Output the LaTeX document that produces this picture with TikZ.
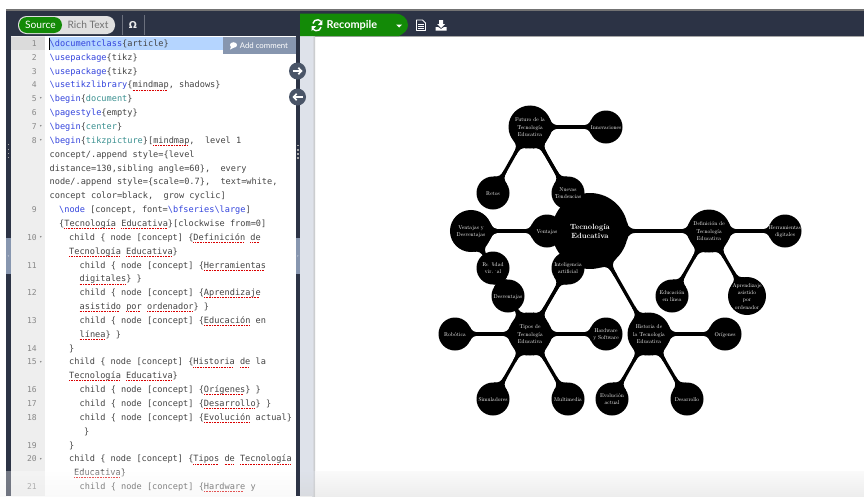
\documentclass[tikz,border=0pt]{standalone}
\usepackage{fontspec}
\setmainfont{Latin Modern Roman}
\newfontfamily\uifont{Lato}
\newfontfamily\codefont{DejaVu Sans Mono}
\newfontfamily\symfont{DejaVu Sans}
\usetikzlibrary{shapes.geometric,calc,arrows.meta}
\definecolor{uidark}{HTML}{2C3345}
\definecolor{uigreen}{HTML}{138A07}
\definecolor{gutter}{HTML}{EEEEEE}
\definecolor{kw}{HTML}{3344DD}
\definecolor{env}{HTML}{3A9090}
\definecolor{codetx}{HTML}{444444}
\definecolor{numtx}{HTML}{888888}
\definecolor{sel}{HTML}{B5D5FF}
\definecolor{tabg}{HTML}{8796AF}
\definecolor{handle}{HTML}{4A5568}
\definecolor{splitlight}{HTML}{DEE2EA}
\newcommand\sq[1]{\setbox0\hbox{#1}\rlap{\raisebox{-2.2pt}{\color{red!85!black}\leaders\hbox to 1.6pt{\rule{.9pt}{.55pt}\hss}\hskip\wd0}}\box0\relax}
\newcommand\kwd[1]{{\color{kw}#1}}
\newcommand\envn[1]{{\color{env}#1}}
\newcommand\ct[1]{\makebox[0pt]{\smash{\raisebox{-3.6pt}{\begin{tabular}[c]{@{}c@{}}#1\end{tabular}}}}}
\pgfdeclarelayer{ui}
\pgfdeclarelayer{conn}
\pgfsetlayers{ui,conn,main}
\tikzset{
  x=1pt,y=-1pt,
  basec/.style={circle,fill=black,text=white,inner sep=0pt,outer sep=0pt},
  cnode/.style={basec,scale=.55,font=\fontsize{10}{13.3}\selectfont,minimum size=60pt},
  bigc/.style={cnode,minimum size=78.2pt},
  rootc/.style={basec,scale=.75,minimum size=101.3pt,font=\bfseries\fontsize{10}{12.4}\selectfont},
  barl/.style={line width=3.3pt,draw=black},
  codel/.style={anchor=base west,inner sep=0pt,font=\codefont\fontsize{8.6}{10}\selectfont,text=codetx},
  numl/.style={anchor=base east,inner sep=0pt,font=\codefont\fontsize{8}{10}\selectfont,text=numtx},
  foldm/.style={inner sep=0pt,font=\symfont\fontsize{4}{4}\selectfont,text=numtx},
  uit/.style={inner sep=0pt,font=\uifont\fontsize{10.2}{11}\selectfont}
}
\newcommand\codeln[3]{\node[codel] (c#1) at (#2,{46.4+13.85*#1}) {\strut #3};}
\newcommand\numln[2]{\node[numl] (n#1) at (37,{46.4+13.85*#1}) {#2};}
\newcommand\fold[1]{\node[foldm] (f#1) at (41,{43.5+13.85*#1}) {▾};}
% flared foot of a connector, on node #1, facing node #2
\newcommand\flare[2]{%
  \pgfpointanchor{#1}{center}\pgfgetlastxy\fxa\fya
  \pgfpointanchor{#2}{center}\pgfgetlastxy\fxb\fyb
  \pgfpointanchor{#1}{east}\pgfgetlastxy\fxc\fyc
  \pgfmathsetmacro\fang{atan2(\fyb-\fya,\fxb-\fxa)}%
  \pgfmathsetmacro\fR{\fxc-\fxa}%
  \pgfmathsetmacro\fw{6.5+0.08*\fR}%
  \pgfmathsetmacro\fx{sqrt(\fR*\fR-\fw*\fw)}%
  \pgfmathsetmacro\fe{\fR+4+0.26*\fR}%
  \pgfmathsetmacro\fa{\fR+0.5}%
  \pgfmathsetmacro\fb{\fR+2.5}%
  \fill[shift={(\fxa,\fya)},rotate=\fang]
    (\fx,\fw) .. controls (\fa,2.8) and (\fb,1.65) .. (\fe,1.65)
    -- (\fe,-1.65) .. controls (\fb,-1.65) and (\fa,-2.8) .. (\fx,-\fw) -- cycle;}
\begin{document}
\begin{tikzpicture}
\useasboundingbox (0,0) rectangle (864,496);
\begin{pgfonlayer}{ui}
\fill[white] (0,0) rectangle (864,496);
\fill[black!55] (6,9) rectangle (864,11);
\fill[uidark] (6,11) rectangle (864,36);
\fill[black!35] (315,36) rectangle (864,36.8);
\fill[uidark] (6,36) rectangle (11,496);
\fill[white] (11,36) rectangle (296,496);
\fill[gutter] (11,36) rectangle (45,496);
\fill[uidark] (295.5,36) rectangle (300,496);
\fill[splitlight] (300,36) rectangle (312,496);
\shade[left color=splitlight,right color=black!24] (312,36) rectangle (315,496);
% toolbar left
\path[fill=black!12!white,rounded corners=8.5pt] (18,16) rectangle (115,34);
\path[fill=uigreen,rounded corners=8pt] (19,17) rectangle (62,33);
\node[uit,text=white] (srcl) at (40.5,25) {Source};
\node[uit,text=black!55] (rich) at (88,25) {Rich Text};
\node[inner sep=0pt,text=black!8,font=\symfont\bfseries\fontsize{9.5}{10}\selectfont] (omega) at (133,24.5) {Ω};
\draw[uidark!70!white,line width=.5pt] (122,15) -- (122,35) (144,15) -- (144,35);
% selected first line
\fill[sel] (49,37) rectangle (223,50);
\fill[black!14!white] (11,37) rectangle (45,50);
\draw[black,line width=.6pt] (49.5,37.5) -- (49.5,49.5);
% comment tag
\fill[tabg] (223,36.5) rectangle (296,54);
\fill[white] (233.5,45) ellipse (3.6 and 2.8);
\fill[white] (231,46.5) -- (230,49.5) -- (234,47.5) -- cycle;
\node[inner sep=0pt,anchor=west,text=white,font=\uifont\fontsize{7.8}{9}\selectfont] (addc) at (239.7,45.5) {Add comment};
% code
\numln{0}{1}\numln{1}{2}\numln{2}{3}\numln{3}{4}\numln{4}{5}\numln{5}{6}\numln{6}{7}\numln{7}{8}
\numln{12}{9}\numln{14}{10}\numln{16}{11}\numln{18}{12}\numln{20}{13}\numln{22}{14}\numln{23}{15}
\numln{25}{16}\numln{26}{17}\numln{27}{18}\numln{29}{19}\numln{30}{20}\numln{32}{21}
\fold{4}\fold{6}\fold{7}\fold{14}\fold{23}\fold{30}
\codeln{0}{49.5}{\kwd{\textbackslash documentclass}\{article\}}
\codeln{1}{49.5}{\kwd{\textbackslash usepackage}\{tikz\}}
\codeln{2}{49.5}{\kwd{\textbackslash usepackage}\{tikz\}}
\codeln{3}{49.5}{\kwd{\textbackslash usetikzlibrary}\{\sq{mindmap}, shadows\}}
\codeln{4}{49.5}{\kwd{\textbackslash begin}\{\envn{document}\}}
\codeln{5}{49.5}{\kwd{\textbackslash pagestyle}\{empty\}}
\codeln{6}{49.5}{\kwd{\textbackslash begin}\{\envn{center}\}}
\codeln{7}{49.5}{\kwd{\textbackslash begin}\{\envn{tikzpicture}\}[\sq{mindmap},\ \ level 1}
\codeln{8}{49.5}{concept/.append style=\{level}
\codeln{9}{49.5}{distance=130,sibling angle=60\},\ \ every}
\codeln{10}{49.5}{node/.append style=\{scale=0.7\},\ \ text=white,}
\codeln{11}{49.5}{concept color=black,\ \ grow cyclic]}
\codeln{12}{59}{\kwd{\textbackslash node} [concept, font=\kwd{\textbackslash bfseries\textbackslash large}]}
\codeln{13}{59}{\{\sq{Tecnología} \sq{Educativa}\}[clockwise from=0]}
\codeln{14}{69}{child \{ node [concept] \{\sq{Definición} \sq{de}}
\codeln{15}{69}{\sq{Tecnología} \sq{Educativa}\}}
\codeln{16}{79.5}{child \{ node [concept] \{\sq{Herramientas}}
\codeln{17}{79.5}{\sq{digitales}\} \}}
\codeln{18}{79.5}{child \{ node [concept] \{\sq{Aprendizaje}}
\codeln{19}{79.5}{\sq{asistido} \sq{por} \sq{ordenador}\} \}}
\codeln{20}{79.5}{child \{ node [concept] \{\sq{Educación} en}
\codeln{21}{79.5}{\sq{línea}\} \}}
\codeln{22}{69}{\}}
\codeln{23}{69}{child \{ node [concept] \{\sq{Historia} \sq{de} la}
\codeln{24}{69}{\sq{Tecnología} \sq{Educativa}\}}
\codeln{25}{79.5}{child \{ node [concept] \{\sq{Orígenes}\} \}}
\codeln{26}{79.5}{child \{ node [concept] \{\sq{Desarrollo}\} \}}
\codeln{27}{79.5}{child \{ node [concept] \{\sq{Evolución} actual\}}
\codeln{28}{84}{\}}
\codeln{29}{69}{\}}
\codeln{30}{69}{child \{ node [concept] \{\sq{Tipos} \sq{de} \sq{Tecnología}}
\codeln{31}{74}{\sq{Educativa}\}}
\codeln{32}{79.5}{child \{ node [concept] \{\sq{Hardware} y}
% splitter details
\fill[tabg] (295.5,238) rectangle (300,274);
\fill[tabg] (6,238) rectangle (11,274);
\foreach \yy in {144.5,149,153,157}{\fill[black!35!white] (297,\yy) rectangle (298.6,\yy+1.6);\fill[black!35!white] (7.7,\yy-.5) rectangle (8.9,\yy+.9);}
\node[inner sep=0pt,text=white,font=\symfont\fontsize{4}{4}\selectfont] (splitmark) at (298,256) {›};
\node[inner sep=0pt,text=white,font=\symfont\fontsize{4}{4}\selectfont] (leftmark) at (8.5,256) {‹};
% handles
\fill[handle] (297.5,71) circle (8.5);
\fill[handle] (297.5,97) circle (8.5);
\draw[white,line width=1.7pt,-{Straight Barb[length=3pt,width=6.5pt,line width=1.7pt]}] (292.5,71) -- (302.5,71);
\draw[white,line width=1.7pt,-{Straight Barb[length=3pt,width=6.5pt,line width=1.7pt]}] (302.5,97) -- (292.5,97);
% recompile
\path[fill=uigreen] (300,13.5) -- (395,13.5) to[out=0,in=90] (408,25) to[out=-90,in=30] (399,36) -- (300,36) -- cycle;
\draw[white,line width=1.4pt] (312.9,23.5) arc[start angle=170,end angle=40,x radius=4.6,y radius=-4.6];
\draw[white,line width=1.4pt] (321.1,27) arc[start angle=-10,end angle=-140,x radius=4.6,y radius=-4.6];
\fill[white] (322.4,20) -- (322.4,25) -- (317.8,25) -- cycle;
\fill[white] (311.6,31) -- (311.6,26) -- (316.2,26) -- cycle;
\node[inner sep=0pt,text=white,anchor=west,font=\uifont\bfseries\fontsize{10.9}{11}\selectfont] (recomp) at (326.5,25.5) {Recompile};
\fill[white] (396,24.5) -- (402,24.5) -- (399,27.5) -- cycle;
% doc icon
\draw[white,line width=.8pt,line join=round] (416.5,20) -- (422.5,20) -- (425.5,23) -- (425.5,30.5) -- (416.5,30.5) -- cycle;
\draw[white,line width=.6pt] (418,24.5) -- (424,24.5) (418,26.5) -- (424,26.5) (418,28.5) -- (424,28.5);
% download icon
\fill[white] (439,20) -- (443,20) -- (443,24) -- (445,24) -- (441,28) -- (437,24) -- (439,24) -- cycle;
\fill[white] (435.5,27) -- (438,27) -- (441,29) -- (444,27) -- (446.5,27) -- (446.5,30.5) -- (435.5,30.5) -- cycle;
% bottom fade
\shade[top color=white,bottom color=black!6,opacity=.35] (0,471) rectangle (295.5,496);
\shade[top color=black!2,bottom color=black!7] (315,471) rectangle (864,496);
\shade[top color=splitlight,bottom color=black!18,opacity=.4] (300,471) rectangle (315,496);
\end{pgfonlayer}
% concept nodes
\node[rootc] (root) at (590,231) {\ct{Tecnología\\Educativa}};
\node[bigc] (def) at (709,231) {\ct{Definición de\\Tecnología\\Educativa}};
\node[cnode] (herr) at (785,231) {\ct{Herramientas\\digitales}};
\node[cnode,minimum size=69.1pt] (apr) at (747,296) {\ct{Aprendizaje\\asistido\\por\\ordenador}};
\node[cnode] (edu) at (672,296) {\ct{Educación\\en línea}};
\node[bigc] (hist) at (649,334) {\ct{Historia de\\la Tecnología\\Educativa}};
\node[cnode] (ori) at (725,334) {\ct{Orígenes}};
\node[cnode] (des) at (687,399) {\ct{Desarrollo}};
\node[cnode] (evo) at (612,399) {\ct{Evolución\\actual}};
\node[bigc] (tip) at (530,334) {\ct{Tipos de\\Tecnología\\Educativa}};
\node[cnode] (hard) at (606,334) {\ct{Hardware\\y Software}};
\node[cnode] (ia) at (568,268) {\ct{Inteligencia\\artificial}};
\node[cnode] (rv) at (493,268) {\ct{Realidad\\virtual}};
\node[cnode] (rob) at (455,334) {\ct{Robótica}};
\node[cnode] (sim) at (493,399) {\ct{Simuladores}};
\node[cnode] (mul) at (568,399) {\ct{Multimedia}};
\node[bigc,minimum size=76.4pt] (vd) at (471,231) {\ct{Ventajas y\\Desventajas}};
\node[cnode] (ven) at (547,231) {\ct{Ventajas}};
\node[cnode] (dsv) at (508,296) {\ct{Desventajas}};
\node[bigc] (fut) at (530,127) {\ct{Futuro de la\\Tecnología\\Educativa}};
\node[cnode] (inn) at (606,127) {\ct{Innovaciones}};
\node[cnode] (nue) at (568,193) {\ct{Nuevas\\Tendencias}};
\node[cnode] (ret) at (493,193) {\ct{Retos}};
\begin{pgfonlayer}{conn}
\foreach \aa/\bb in {root/def,root/hist,root/tip,root/vd,root/fut,
  def/herr,def/apr,def/edu,hist/ori,hist/des,hist/evo,
  tip/hard,tip/ia,tip/rv,tip/rob,tip/sim,tip/mul,
  vd/ven,fut/inn,fut/nue,fut/ret}
  {\draw[barl] (\aa) -- (\bb);
   \flare{\aa}{\bb}
   \flare{\bb}{\aa}}
\flare{vd}{dsv}
\flare{dsv}{vd}
\end{pgfonlayer}
\draw[barl] (vd) -- (dsv);
\end{tikzpicture}
\end{document}
